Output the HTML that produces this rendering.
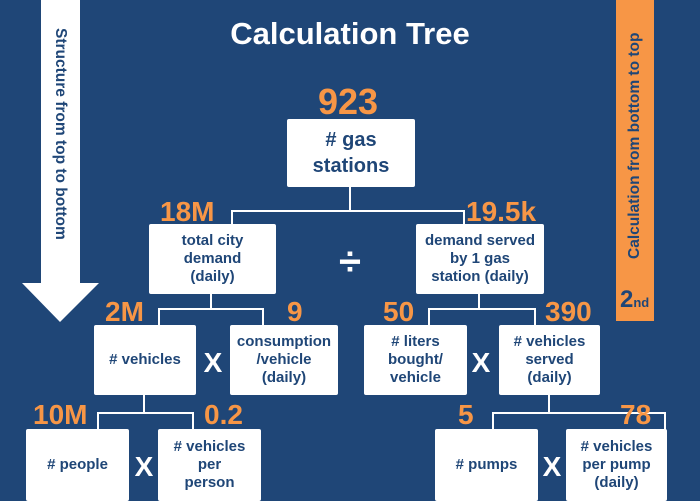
<!DOCTYPE html>
<html><head><meta charset="utf-8"><style>
*{margin:0;padding:0;box-sizing:border-box}
body{width:700px;height:500px;background:#1f4677;position:relative;overflow:hidden;font-family:"Liberation Sans",Arial,sans-serif;font-weight:bold}
.b{position:absolute;background:#fff;color:#1f4677;font-size:15px;line-height:18px;display:flex;align-items:center;justify-content:center;text-align:center;border-radius:2px}
.n{position:absolute;color:#f79646;font-size:28px;line-height:28px;white-space:nowrap}
.x{position:absolute;color:#fff;font-size:30px;line-height:30px;transform:translate(-50%,-50%);font-weight:bold}
.l{position:absolute;background:#fff}
</style></head><body>
<div class="l" style="left:41px;top:0;width:39px;height:284px"></div>
<svg style="position:absolute;left:0;top:0" width="700" height="500"><polygon points="22,283 99,283 60,322" fill="#fff"/></svg>
<div style="position:absolute;left:60px;top:28px;transform-origin:0 0;transform:rotate(90deg) translate(0,-50%);color:#1f4677;font-size:15.5px;white-space:nowrap;line-height:18px">Structure from top to bottom</div>
<div style="position:absolute;left:635px;top:259px;transform-origin:0 0;transform:rotate(-90deg) translate(0,-50%);color:#1f4677;font-size:15.5px;white-space:nowrap;line-height:18px">Calculation from bottom to top</div>
<div style="position:absolute;left:616px;top:0;width:38px;height:321px;background:#f79646;z-index:-1"></div>
<div style="position:absolute;left:620px;top:287px;color:#1f4677;font-size:24px;line-height:26px">2<span style="font-size:13px">nd</span></div>
<div style="position:absolute;left:0;width:700px;top:16px;text-align:center;color:#fff;font-size:31px;line-height:36px">Calculation Tree</div>

<div class="l" style="left:349px;top:186px;width:2px;height:25px"></div>
<div class="l" style="left:231px;top:210px;width:234px;height:2px"></div>
<div class="l" style="left:231px;top:210px;width:2px;height:15px"></div>
<div class="l" style="left:463px;top:210px;width:2px;height:15px"></div>
<div class="l" style="left:210px;top:293px;width:2px;height:16px"></div>
<div class="l" style="left:158px;top:308px;width:106px;height:2px"></div>
<div class="l" style="left:158px;top:308px;width:2px;height:18px"></div>
<div class="l" style="left:262px;top:308px;width:2px;height:18px"></div>
<div class="l" style="left:478px;top:293px;width:2px;height:16px"></div>
<div class="l" style="left:428px;top:308px;width:108px;height:2px"></div>
<div class="l" style="left:428px;top:308px;width:2px;height:18px"></div>
<div class="l" style="left:534px;top:308px;width:2px;height:18px"></div>
<div class="l" style="left:143px;top:394px;width:2px;height:19px"></div>
<div class="l" style="left:97px;top:412px;width:97px;height:2px"></div>
<div class="l" style="left:97px;top:412px;width:2px;height:18px"></div>
<div class="l" style="left:192px;top:412px;width:2px;height:18px"></div>
<div class="l" style="left:548px;top:394px;width:2px;height:19px"></div>
<div class="l" style="left:492px;top:412px;width:174px;height:2px"></div>
<div class="l" style="left:492px;top:412px;width:2px;height:18px"></div>
<div class="l" style="left:664px;top:412px;width:2px;height:18px"></div>

<div class="b" style="left:287px;top:119px;width:128px;height:68px;font-size:20px;line-height:26px"># gas<br>stations</div>
<div class="b" style="left:149px;top:224px;width:127px;height:70px">total city<br>demand<br>(daily)</div>
<div class="b" style="left:416px;top:224px;width:128px;height:70px">demand served<br>by 1 gas<br>station (daily)</div>
<div class="b" style="left:94px;top:325px;width:102px;height:70px"># vehicles</div>
<div class="b" style="left:230px;top:325px;width:108px;height:70px">consumption<br>/vehicle<br>(daily)</div>
<div class="b" style="left:364px;top:325px;width:103px;height:70px"># liters<br>bought/<br>vehicle</div>
<div class="b" style="left:499px;top:325px;width:101px;height:70px"># vehicles<br>served<br>(daily)</div>
<div class="b" style="left:26px;top:429px;width:103px;height:72px"># people</div>
<div class="b" style="left:158px;top:429px;width:103px;height:72px"># vehicles<br>per<br>person</div>
<div class="b" style="left:435px;top:429px;width:103px;height:72px"># pumps</div>
<div class="b" style="left:566px;top:429px;width:101px;height:72px"># vehicles<br>per pump<br>(daily)</div>

<div class="n" style="left:318px;top:84px;font-size:36px;line-height:36px">923</div>
<div class="n" style="left:160px;top:198px">18M</div>
<div class="n" style="left:466px;top:198px">19.5k</div>
<div class="n" style="left:105px;top:298px">2M</div>
<div class="n" style="left:287px;top:298px">9</div>
<div class="n" style="left:383px;top:298px">50</div>
<div class="n" style="left:545px;top:298px">390</div>
<div class="n" style="left:33px;top:401px">10M</div>
<div class="n" style="left:204px;top:401px">0.2</div>
<div class="n" style="left:458px;top:401px">5</div>
<div class="n" style="left:620px;top:401px">78</div>

<div class="x" style="left:350px;top:262px;font-size:40px">÷</div>
<div class="x" style="left:213px;top:363px;font-size:28px">X</div>
<div class="x" style="left:481px;top:363px;font-size:28px">X</div>
<div class="x" style="left:144px;top:467px;font-size:28px">X</div>
<div class="x" style="left:552px;top:467px;font-size:28px">X</div>
</body></html>
